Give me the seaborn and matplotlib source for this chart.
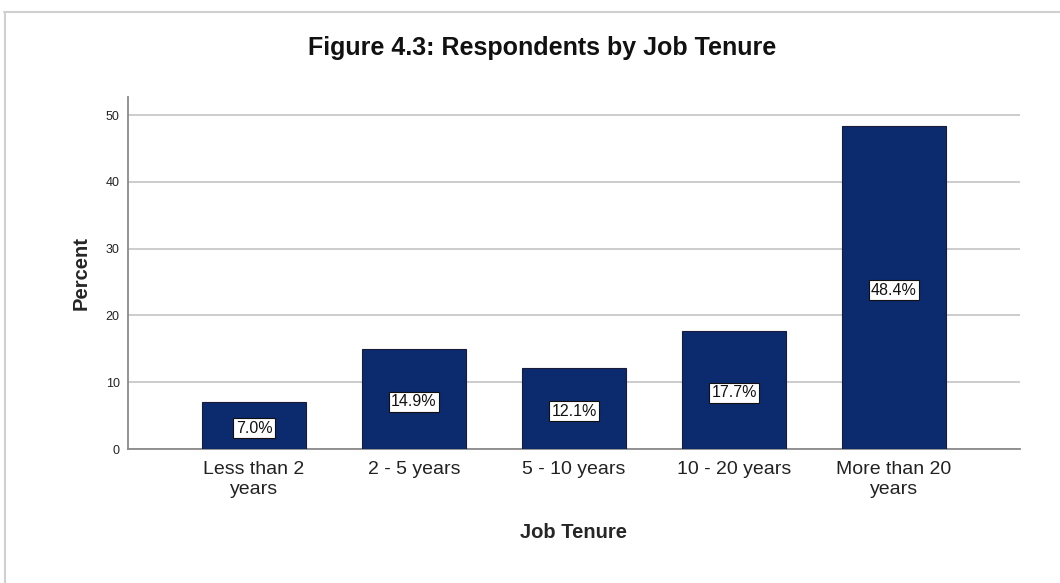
import matplotlib
matplotlib.use("Agg")
import matplotlib.pyplot as plt
import seaborn as sns
import pandas as pd

categories = ["Less than 2\nyears", "2 - 5 years", "5 - 10 years", "10 - 20 years", "More than 20\nyears"]
percent = [7.0, 14.9, 12.1, 17.7, 48.4]
y_ticks = [0, 10, 20, 30, 40, 50]

df = pd.DataFrame({"tenure": categories, "percent": percent})

sns.set_theme(style="white")
plt.rcParams["font.family"] = ["Liberation Sans", "DejaVu Sans"]

W, H = 1060, 583
fig = plt.figure(figsize=(W / 100, H / 100), dpi=100)
ax = fig.add_axes([128 / W, 1 - 449 / H, (1020 - 128) / W, (449 - 97) / H])

# light frame around the chart area
fig.add_artist(plt.Line2D([4 / W, 1], [1 - 12 / H, 1 - 12 / H], color="#d0d0d0", lw=1.5))
fig.add_artist(plt.Line2D([5 / W, 5 / W], [0, 1 - 12 / H], color="#d0d0d0", lw=1.5))

sns.barplot(data=df, x="tenure", y="percent", ax=ax, color="#0c2a6e",
            width=0.65, edgecolor="#1a1a3a", linewidth=0.8, saturation=1, zorder=3)

ax.set_xlim(-0.7875, 4.7875)
ax.set_ylim(0, 52.7)
ax.set_yticks(y_ticks)
ax.set_yticklabels([str(t) for t in y_ticks], fontsize=9, color="#222222")
ax.tick_params(axis="y", length=0, pad=6)
ax.tick_params(axis="x", length=0, pad=9, labelsize=14, labelcolor="#222222")
for lbl in ax.get_xticklabels():
    lbl.set_linespacing(1.2)
ax.yaxis.grid(True, color="#c8c8c8", lw=1.3, zorder=0)
ax.xaxis.grid(False)

for side in ["top", "right"]:
    ax.spines[side].set_visible(False)
for side in ["left", "bottom"]:
    ax.spines[side].set_color("#8a8a8a")
    ax.spines[side].set_linewidth(1.3)

for i, v in enumerate(percent):
    ax.text(i, v / 2 - 0.4, f"{v:.1f}%", ha="center", va="center", fontsize=11.5,
            color="#111111", zorder=5,
            bbox=dict(boxstyle="square,pad=0.16", fc="white", ec="#111111", lw=0.8))

ax.set_xlabel("Job Tenure", fontsize=14.5, fontweight="bold", labelpad=18)
ax.set_ylabel("Percent", fontsize=14.5, fontweight="bold", labelpad=11)

fig.text(542 / W, 1 - 48 / H, "Figure 4.3: Respondents by Job Tenure",
         ha="center", va="center", fontsize=18, fontweight="bold", color="#111111")

fig.savefig("out.png", dpi=100, facecolor="white")
